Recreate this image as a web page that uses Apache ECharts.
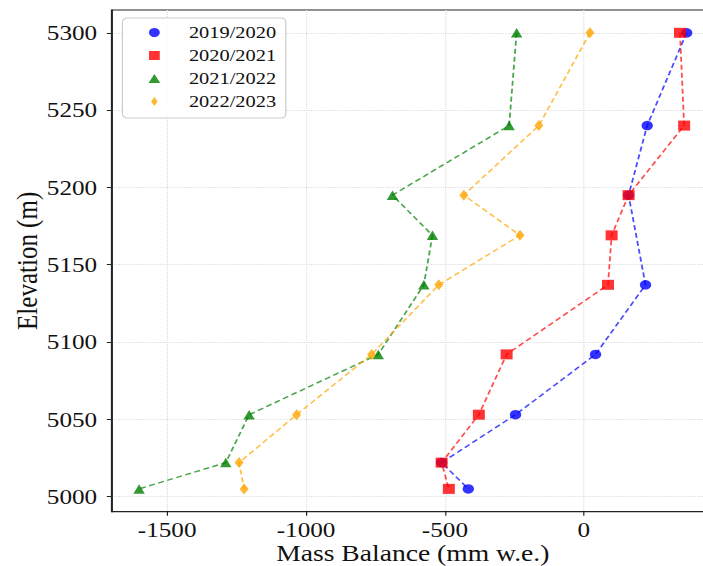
<!DOCTYPE html>
<html><head><meta charset="utf-8">
<script src="https://cdn.jsdelivr.net/npm/echarts@6/dist/echarts.min.js"></script>
<style>
html,body{margin:0;padding:0;width:703px;height:566px;overflow:hidden;background:#fff}
#c{width:600px;height:566px;transform:scaleX(1.2);transform-origin:0 0}
</style></head><body><div id="c"></div>
<script>
const elevations = [5300, 5240, 5195, 5169, 5137, 5092, 5053, 5022, 5005];
const mb2019_2020 = [370, 228, 161, null, 222, 42, -246, -512, -416];
const mb2020_2021 = [346, 361, 161, 100, 87, -278, -378, -512, -486];
const mb2021_2022 = [-242, -269, -689, -545, -576, -740, -1205, -1289, -1601];
const mb2022_2023 = [22, -162, -432, -230, -522, -764, -1034, -1241, -1223];
const seriesNames = ['2019/2020', '2020/2021', '2021/2022', '2022/2023'];
const xTicks = [-1500, -1000, -500, 0];
const yTicks = [5000, 5050, 5100, 5150, 5200, 5250, 5300];

const FONT = "'Liberation Serif', 'Times New Roman', serif";
const colors = ['#0000ff', '#ff0000', '#008000', '#ffa500'];
const symbols = ['circle', 'rect', 'triangle', 'path://M0,-1L0.6,0L0,1L-0.6,0Z'];
const legendIcons = ['circle', 'path://M0,0L1,0L1,1L0,1Z', 'path://M0.5,0L1,0.92L0,0.92Z', 'path://M0,-1L0.6,0L0,1L-0.6,0Z'];
const sizes = [9.5, 10, 9.5, [7.5, 11]];
const allVals = [mb2019_2020, mb2020_2021, mb2021_2022, mb2022_2023];

function pairs(vals) {
  return vals.map((v, i) => [v, elevations[i]]).filter(p => p[0] !== null);
}

const chart = echarts.init(document.getElementById('c'), null, {renderer: 'svg'});
const axisCommon = {
  type: 'value',
  axisLine: {show: true, onZero: false, lineStyle: {color: '#222', width: 1.2}},
  axisTick: {show: true, length: 4, lineStyle: {color: '#222', width: 1}},
  splitLine: {show: true, lineStyle: {type: 'dotted', color: '#dcdcdc', width: 1}},
  nameLocation: 'middle',
  nameMoveOverlap: false,
  nameTextStyle: {fontFamily: FONT, fontSize: 23, color: '#111'}
};
chart.setOption({
  animation: false,
  backgroundColor: '#fff',
  grid: {left: 93, right: 5, top: 10, bottom: 54.3, show: true, borderColor: '#222', borderWidth: 1.2,
         backgroundColor: 'transparent', containLabel: false, outerBoundsMode: 'none'},
  xAxis: Object.assign({}, axisCommon, {
    min: -1700, max: 468.5,
    name: 'Mass Balance (mm w.e.)', nameGap: 30,
    axisTick: Object.assign({}, axisCommon.axisTick, {customValues: xTicks}),
    axisLabel: {customValues: xTicks, formatter: v => String(v), fontFamily: FONT, fontSize: 21, lineHeight: 21, color: '#111', margin: 8}
  }),
  yAxis: Object.assign({}, axisCommon, {
    min: 4990.25, max: 5314.75,
    name: 'Elevation (m)', nameGap: 58,
    nameTextStyle: {fontFamily: FONT, fontSize: 25, color: '#111'},
    axisTick: Object.assign({}, axisCommon.axisTick, {customValues: yTicks}),
    axisLabel: {customValues: yTicks, formatter: v => String(v), fontFamily: FONT, fontSize: 21, color: '#111', margin: 12}
  }),
  legend: {
    left: 102, top: 18, orient: 'vertical',
    padding: [6, 8, 8, 21.75], itemWidth: 33, itemHeight: 9, itemGap: 6,
    symbolKeepAspect: true,
    backgroundColor: 'rgba(255,255,255,0.85)', borderColor: '#cccccc', borderWidth: 1, borderRadius: 4,
    formatter: name => '{s|}' + name,
    textStyle: {fontFamily: FONT, fontSize: 17, color: '#111', lineHeight: 17, rich: {s: {width: 7.3}}},
    data: seriesNames.map((n, i) => ({name: n, icon: legendIcons[i]}))
  },
  series: seriesNames.map((n, i) => ({
    name: n, type: 'line',
    data: pairs(allVals[i]),
    symbol: symbols[i], symbolSize: sizes[i],
    itemStyle: {color: colors[i], opacity: 0.8},
    lineStyle: {color: colors[i], width: 1.5, type: [5, 3], opacity: 0.7},
    emphasis: {disabled: true}
  }))
});
</script></body></html>
